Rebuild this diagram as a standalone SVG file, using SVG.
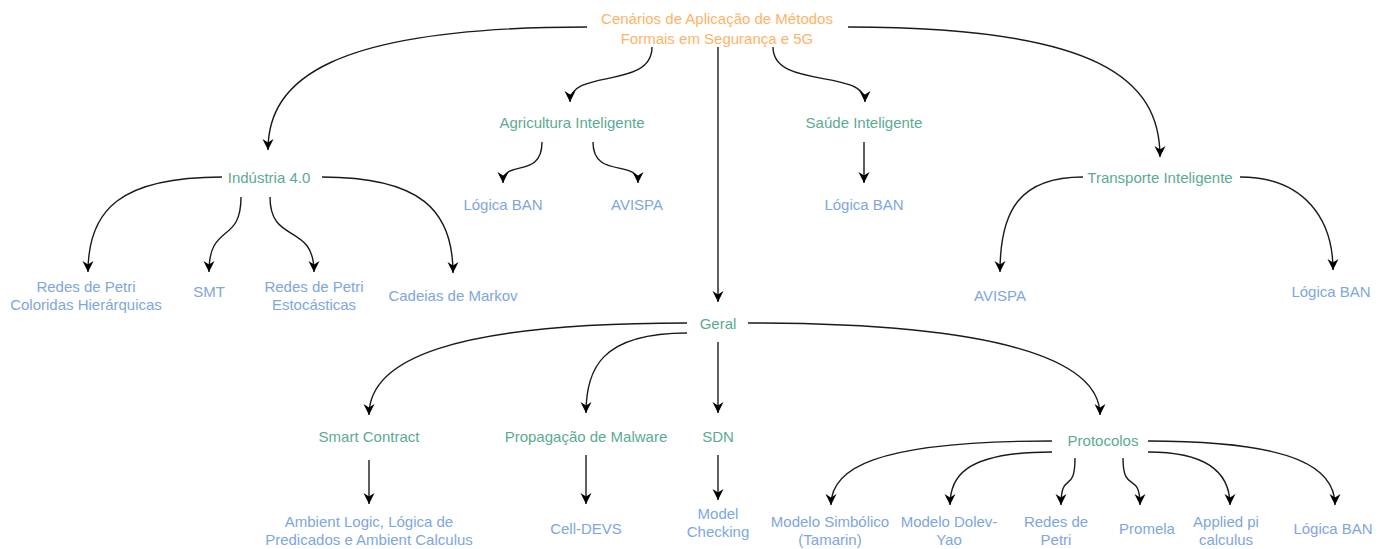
<svg xmlns="http://www.w3.org/2000/svg" width="1390" height="549" viewBox="0 0 1390 549">
<style>
text{font-family:"Liberation Sans",Arial,sans-serif;font-size:15px;text-anchor:middle;dominant-baseline:central}
.root{fill:#FFB366}
.cat{fill:#5AAB92}
.leaf{fill:#7EA6E0}
.e{fill:none;stroke:#1a1a1a;stroke-width:1.4;marker-end:url(#arr)}
</style>
<defs>
<marker id="arr" markerUnits="userSpaceOnUse" markerWidth="14" markerHeight="14" refX="11" refY="7" orient="auto" viewBox="0 0 14 14">
<path d="M0,1.5 L11,7 L0,12.5 L3.5,7 z" fill="#000"/>
</marker>
</defs>
<rect width="1390" height="549" fill="#fff"/>
<g id="connectors">
<path class="e" d="M587,27 C330,27 268,80 268,150"/>
<path class="e" d="M652,47 C652,90 570,68 570,102"/>
<path class="e" d="M718,47 L718,302"/>
<path class="e" d="M773,47 C773,90 865,68 865,102"/>
<path class="e" d="M848,27 C1100,27 1160,80 1160,157"/>
<path class="e" d="M542,142 C542,180 503,158 503,183"/>
<path class="e" d="M593,142 C593,180 638,158 638,183"/>
<path class="e" d="M864,142 L864,183"/>
<path class="e" d="M222,177 C120,177 88,210 88,272"/>
<path class="e" d="M241,197 C241,245 209,222 209,272"/>
<path class="e" d="M270,197 C270,245 314,222 314,272"/>
<path class="e" d="M322,177 C420,177 453,210 453,273"/>
<path class="e" d="M1083,177 C1020,177 1000,210 1000,272"/>
<path class="e" d="M1240,177 C1305,177 1333,220 1333,270"/>
<path class="e" d="M687,323 C450,323 369,360 369,415"/>
<path class="e" d="M687,333 C600,333 586,370 586,413"/>
<path class="e" d="M718,342 L718,413"/>
<path class="e" d="M748,323 C1000,323 1100,360 1100,415"/>
<path class="e" d="M369,460 L369,504"/>
<path class="e" d="M586,455 L586,504"/>
<path class="e" d="M718,455 L718,500"/>
<path class="e" d="M1052,441 C870,441 831,470 831,505"/>
<path class="e" d="M1052,452 C960,452 950,480 950,505"/>
<path class="e" d="M1075,458 C1075,495 1061,470 1061,505"/>
<path class="e" d="M1123,458 C1123,495 1140,470 1140,505"/>
<path class="e" d="M1148,452 C1210,452 1230,475 1230,505"/>
<path class="e" d="M1148,441 C1300,441 1335,470 1335,505"/>
</g>
<g id="root"><text class="root" x="717" y="18">Cenários de Aplicação de Métodos</text><text class="root" x="717" y="38">Formais em Segurança e 5G</text></g>
<g id="industria"><text class="cat" x="269" y="177">Indústria 4.0</text></g>
<g id="agricultura"><text class="cat" x="572" y="122">Agricultura Inteligente</text></g>
<g id="saude"><text class="cat" x="864" y="122">Saúde Inteligente</text></g>
<g id="transporte"><text class="cat" x="1160" y="177">Transporte Inteligente</text></g>
<g id="geral"><text class="cat" x="718" y="323">Geral</text></g>
<g id="agr-ban"><text class="leaf" x="503" y="204">Lógica BAN</text></g>
<g id="agr-avispa"><text class="leaf" x="637" y="204">AVISPA</text></g>
<g id="saude-ban"><text class="leaf" x="864" y="204">Lógica BAN</text></g>
<g id="ind-petri-col"><text class="leaf" x="86" y="286">Redes de Petri</text><text class="leaf" x="86" y="304">Coloridas Hierárquicas</text></g>
<g id="ind-smt"><text class="leaf" x="209" y="291">SMT</text></g>
<g id="ind-petri-est"><text class="leaf" x="314" y="286">Redes de Petri</text><text class="leaf" x="314" y="304">Estocásticas</text></g>
<g id="ind-markov"><text class="leaf" x="453" y="295">Cadeias de Markov</text></g>
<g id="tr-avispa"><text class="leaf" x="1000" y="295">AVISPA</text></g>
<g id="tr-ban"><text class="leaf" x="1331" y="291">Lógica BAN</text></g>
<g id="smart"><text class="cat" x="369" y="436">Smart Contract</text></g>
<g id="malware"><text class="cat" x="586" y="436">Propagação de Malware</text></g>
<g id="sdn"><text class="cat" x="718" y="436">SDN</text></g>
<g id="protocolos"><text class="cat" x="1103" y="440">Protocolos</text></g>
<g id="ambient"><text class="leaf" x="369" y="521">Ambient Logic, Lógica de</text><text class="leaf" x="369" y="539">Predicados e Ambient Calculus</text></g>
<g id="celldevs"><text class="leaf" x="586" y="528">Cell-DEVS</text></g>
<g id="modelcheck"><text class="leaf" x="718" y="513">Model</text><text class="leaf" x="718" y="531">Checking</text></g>
<g id="tamarin"><text class="leaf" x="830" y="521">Modelo Simbólico</text><text class="leaf" x="830" y="539">(Tamarin)</text></g>
<g id="dolev"><text class="leaf" x="949" y="521">Modelo Dolev-</text><text class="leaf" x="949" y="539">Yao</text></g>
<g id="petri"><text class="leaf" x="1056" y="521">Redes de</text><text class="leaf" x="1056" y="539">Petri</text></g>
<g id="promela"><text class="leaf" x="1147" y="528">Promela</text></g>
<g id="appliedpi"><text class="leaf" x="1226" y="521">Applied pi</text><text class="leaf" x="1226" y="539">calculus</text></g>
<g id="prot-ban"><text class="leaf" x="1333" y="528">Lógica BAN</text></g>
</svg>
